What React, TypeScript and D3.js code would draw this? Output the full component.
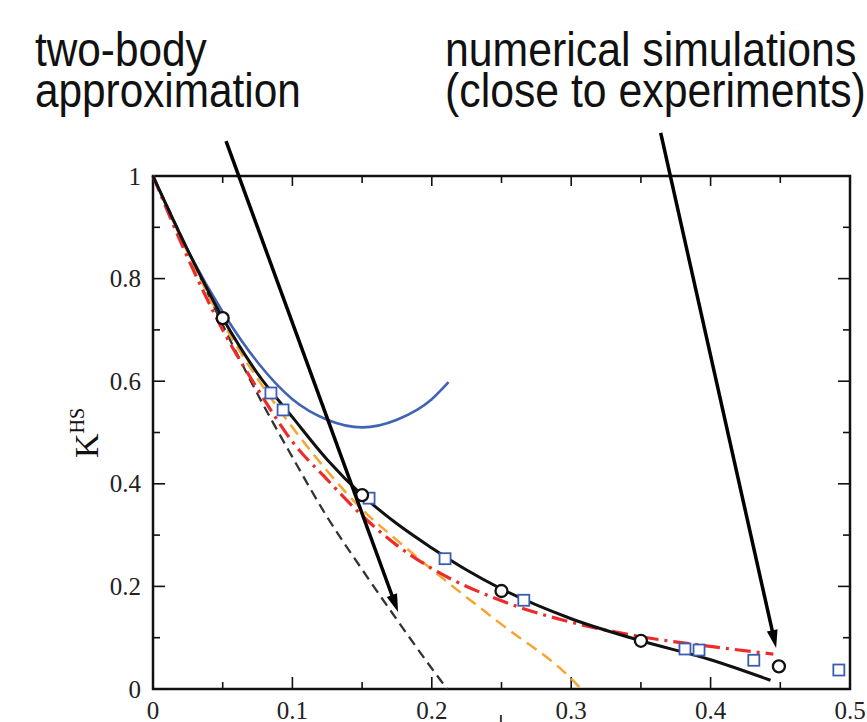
import React from "react";
import * as d3 from "d3";

// axis ticks
const phiTicks = [0, 0.1, 0.2, 0.3, 0.4, 0.5];
const phiMinor = [0.05, 0.15, 0.25, 0.35, 0.45];
const kTicks = [0, 0.2, 0.4, 0.6, 0.8, 1];
const kMinor = [0.1, 0.3, 0.5, 0.7, 0.9];

// curves, [phi, K]
const simFit = [[0, 1], [0.025, 0.855], [0.05, 0.723], [0.075, 0.615], [0.1, 0.53], [0.125, 0.447], [0.15, 0.378], [0.175, 0.322], [0.2, 0.275], [0.225, 0.232], [0.25, 0.195], [0.3, 0.137], [0.35, 0.094], [0.4, 0.057], [0.443, 0.017]];
const twoBody = [[0, 1], [0.025, 0.855], [0.05, 0.71], [0.075, 0.575], [0.1, 0.452], [0.125, 0.335], [0.15, 0.233], [0.175, 0.135], [0.2, 0.04], [0.211, 0]];
const orangeFit = [[0, 1], [0.025, 0.85], [0.05, 0.715], [0.075, 0.605], [0.1, 0.51], [0.125, 0.425], [0.15, 0.35], [0.175, 0.29], [0.2, 0.233], [0.25, 0.126], [0.3, 0.02], [0.307, 0]];
const redFit = [[0, 1], [0.025, 0.84], [0.05, 0.7], [0.075, 0.585], [0.1, 0.482], [0.125, 0.408], [0.15, 0.338], [0.175, 0.28], [0.2, 0.235], [0.25, 0.172], [0.3, 0.13], [0.35, 0.102], [0.4, 0.083], [0.445, 0.068]];
const blueFit = [[0, 1], [0.025, 0.855], [0.05, 0.735], [0.075, 0.637], [0.1, 0.565], [0.125, 0.525], [0.15, 0.51], [0.175, 0.525], [0.2, 0.565], [0.212, 0.598]];

// markers
const simCircles = [[0.05, 0.723], [0.15, 0.378], [0.25, 0.191], [0.35, 0.094], [0.449, 0.044]];
const expSquares = [[0.0846, 0.577], [0.0933, 0.544], [0.155, 0.372], [0.2095, 0.254], [0.266, 0.173], [0.3816, 0.078], [0.3917, 0.076], [0.431, 0.056], [0.492, 0.037]];

// annotation arrows (from, to) in data units
const arrows = [
	[[0.0524, 1.068], [0.1758, 0.15]],
	[[0.3642, 1.084], [0.447, 0.08]],
];

const serif = "'Liberation Serif', 'Times New Roman', serif";
const sans = "'Liberation Sans', Arial, sans-serif";

function Arrow({ x1, y1, x2, y2 }) {
	let dx = x2 - x1, dy = y2 - y1;
	let len = Math.sqrt(dx * dx + dy * dy);
	let ux = dx / len, uy = dy / len;
	let hl = 18, hw = 5.5;
	let bx = x2 - ux * hl, by = y2 - uy * hl;
	let pts = [[x2, y2], [bx - uy * hw, by + ux * hw], [bx + uy * hw, by - ux * hw]];
	return (
		<g>
			<line x1={x1} y1={y1} x2={bx + ux * 2} y2={by + uy * 2} stroke="black" strokeWidth={3.5} />
			<polygon points={pts.map(p => p.join(",")).join(" ")} fill="black" />
		</g>
	);
}

export default function App() {
	let width = 867, height = 722;
	let x = d3.scaleLinear().domain([0, 0.5]).range([153, 850]);
	let y = d3.scaleLinear().domain([0, 1]).range([689, 176]);
	let line = d3.line().x(d => x(d[0])).y(d => y(d[1])).curve(d3.curveMonotoneX);

	let left = x(0), right = x(0.5), top = y(1), bottom = y(0);

	return (
		<svg width={width} height={height} style={{ position: "fixed", left: 0, top: 0, background: "white" }}>
			{/* frame */}
			<rect x={left} y={top} width={right - left} height={bottom - top} fill="none" stroke="#111" strokeWidth={2.5} />

			{/* ticks */}
			{phiTicks.map(t => (
				<g key={"xt" + t}>
					<line x1={x(t)} x2={x(t)} y1={bottom} y2={bottom - 12} stroke="#111" strokeWidth={1.6} />
					<line x1={x(t)} x2={x(t)} y1={top} y2={top + 10} stroke="#111" strokeWidth={1.6} />
					<text x={x(t)} y={719} textAnchor="middle" fontFamily={serif} fontSize={25} fill="#222">{t}</text>
				</g>
			))}
			{phiMinor.map(t => (
				<g key={"xm" + t}>
					<line x1={x(t)} x2={x(t)} y1={bottom} y2={bottom - 7} stroke="#111" strokeWidth={1.6} />
					<line x1={x(t)} x2={x(t)} y1={top} y2={top + 7} stroke="#111" strokeWidth={1.6} />
				</g>
			))}
			{kTicks.map(t => (
				<g key={"yt" + t}>
					<line x1={left} x2={left + 12} y1={y(t)} y2={y(t)} stroke="#111" strokeWidth={1.6} />
					<line x1={right} x2={right - 12} y1={y(t)} y2={y(t)} stroke="#111" strokeWidth={1.6} />
					<text x={141} y={y(t) + 8.5} textAnchor="end" fontFamily={serif} fontSize={25} fill="#222">{t}</text>
				</g>
			))}
			{kMinor.map(t => (
				<g key={"ym" + t}>
					<line x1={left} x2={left + 7} y1={y(t)} y2={y(t)} stroke="#111" strokeWidth={1.6} />
					<line x1={right} x2={right - 7} y1={y(t)} y2={y(t)} stroke="#111" strokeWidth={1.6} />
				</g>
			))}

			{/* axis titles */}
			<text transform="translate(98,458) rotate(-90)" fontFamily={serif} fill="#111">
				<tspan fontSize={34}>K</tspan>
				<tspan fontSize={20} dy={-14}>HS</tspan>
			</text>
			<text x={501} y={736} textAnchor="middle" fontFamily={serif} fontSize={30} fill="#111">ϕ</text>

			{/* curves */}
			<path d={line(twoBody)} fill="none" stroke="#333" strokeWidth={2.3} strokeDasharray="10,6" />
			<path d={line(orangeFit)} fill="none" stroke="#f5a530" strokeWidth={2.5} strokeDasharray="12,7" />
			<path d={line(redFit)} fill="none" stroke="#ee2b2b" strokeWidth={3.2} strokeDasharray="16,6,3,6" />
			<path d={line(blueFit)} fill="none" stroke="#4163b3" strokeWidth={2.6} />
			<path d={line(simFit)} fill="none" stroke="#111" strokeWidth={3} />

			{/* markers */}
			{expSquares.map((d, i) => (
				<rect key={"s" + i} x={x(d[0]) - 5.5} y={y(d[1]) - 5.5} width={11} height={11} fill="white" stroke="#3a5db0" strokeWidth={1.8} />
			))}
			{simCircles.map((d, i) => (
				<circle key={"c" + i} cx={x(d[0])} cy={y(d[1])} r={6} fill="white" stroke="#111" strokeWidth={2.3} />
			))}

			{/* annotations */}
			{arrows.map((a, i) => (
				<Arrow key={"a" + i} x1={x(a[0][0])} y1={y(a[0][1])} x2={x(a[1][0])} y2={y(a[1][1])} />
			))}
			<g fontFamily={sans} fontSize={46} fill="#111">
				<text transform="translate(35,66) scale(0.92,1.04)">two-body</text>
				<text transform="translate(35,107) scale(0.92,1.04)">approximation</text>
				<text transform="translate(445,66) scale(0.93,1.04)">numerical simulations</text>
				<text transform="translate(445,107) scale(0.93,1.04)">(close to experiments)</text>
			</g>
		</svg>
	);
}
